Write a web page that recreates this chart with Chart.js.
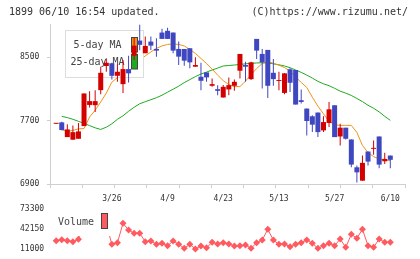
<!DOCTYPE html>
<html>
<head>
<meta charset="utf-8">
<script src="https://cdn.jsdelivr.net/npm/chart.js@4.4.1/dist/chart.umd.min.js"></script>
<style>
  html, body { margin: 0; padding: 0; background: #fff; }
  #wrap { position: relative; width: 420px; height: 259px; overflow: hidden; font-family: "DejaVu Sans Mono", monospace; color: #333; }
  #stamp { position: absolute; left: 9px; top: 6px; font-size: 10px; line-height: 12px; white-space: pre; }
  #copy { position: absolute; right: 12px; top: 6px; font-size: 10px; line-height: 12px; white-space: pre; }
  #main { position: absolute; left: 0; top: 0; }
  #vol { position: absolute; left: 0; top: 195px; }
</style>
</head>
<body>
<div id="wrap">
  <canvas id="main" width="420" height="205"></canvas>
  <canvas id="vol" width="420" height="64"></canvas>
  <div id="stamp">1899 06/10 16:54 updated.</div>
  <div id="copy">(C)https://www.rizumu.net/</div>
</div>
<script>
const $ = (id) => document.getElementById(id);

// trading days 0..60, date labels every 10th day
const dateIdx = [10, 20, 30, 40, 50, 60];
const dateLabels = ["3/26", "4/9", "4/23", "5/13", "5/27", "6/10"];

const open = [7660, 7678, 7492, 7459, 7471, 7631, 7898, 7895, 8085, 8390,
  8424, 8266, 8161, 8351, 8520, 8711, 8551, 8698, 8605, 8812,
  8834, 8812, 8605, 8605, 8614, 8381, 8254, 8309, 8140, 8097,
  7992, 8094, 8140, 8330, 8402, 8224, 8732, 8542, 8593, 8304,
  8200, 8050, 8348, 8339, 7958, 7852, 7755, 7802, 7577, 7670,
  7894, 7500, 7611, 7462, 7111, 6942, 7310, 7344, 7500, 7187, 7259];
const high = [7668, 7685, 7653, 7640, 7670, 8043, 8072, 8085, 8381, 8487,
  8430, 8410, 8466, 8520, 8745, 8910, 8762, 8762, 8741, 8860,
  8872, 8812, 8698, 8605, 8614, 8500, 8431, 8309, 8233, 8148,
  8150, 8246, 8220, 8542, 8444, 8444, 8732, 8605, 8593, 8478,
  8317, 8300, 8360, 8339, 8094, 7852, 7767, 7802, 7755, 7936,
  7894, 7662, 7611, 7462, 7132, 7259, 7310, 7450, 7500, 7293, 7259];
const low = [7660, 7578, 7492, 7459, 7471, 7631, 7865, 7809, 8034, 8317,
  8220, 8190, 8050, 8183, 8466, 8590, 8551, 8593, 8508, 8732,
  8732, 8551, 8402, 8393, 8360, 8381, 8085, 8190, 8127, 8021,
  7992, 8021, 8076, 8233, 8190, 8212, 8478, 8106, 7987, 8140,
  8085, 8034, 8063, 7903, 7916, 7513, 7555, 7492, 7555, 7619,
  7492, 7386, 7462, 7111, 6920, 6942, 7132, 7268, 7098, 7154, 7098];
const close = [7668, 7581, 7589, 7555, 7564, 8043, 7946, 7946, 8304, 8431,
  8266, 8317, 8351, 8297, 8647, 8657, 8643, 8647, 8584, 8732,
  8732, 8584, 8508, 8457, 8436, 8402, 8203, 8246, 8161, 8076,
  8127, 8148, 8190, 8542, 8381, 8436, 8584, 8436, 8140, 8224,
  8212, 8297, 8178, 7903, 7936, 7695, 7649, 7555, 7682, 7843,
  7492, 7611, 7471, 7145, 7047, 7167, 7183, 7352, 7145, 7217, 7205];

const ma5 = [null, 7585, 7564, 7577, 7596, 7600, 7746, 7831, 7936, 8047,
  8186, 8243, 8301, 8351, 8402, 8459, 8517, 8567, 8612, 8643,
  8662, 8669, 8662, 8643, 8599, 8548, 8485, 8421, 8351, 8275,
  8205, 8155, 8130, 8130, 8199, 8281, 8358, 8421, 8443, 8424,
  8400, 8370, 8326, 8250, 8183, 8119, 7996, 7882, 7786, 7691,
  7647, 7640, 7640, 7640, 7551, 7386, 7297, 7246, 7217, 7202, 7196];
const ma25 = [null, 7754, 7738, 7717, 7691, 7666, 7637, 7609, 7589, 7617,
  7660, 7717, 7761, 7818, 7869, 7913, 7939, 7964, 7989, 8021,
  8059, 8097, 8135, 8180, 8218, 8256, 8288, 8313, 8339, 8364,
  8390, 8396, 8402, 8409, 8417, 8424, 8428, 8431, 8428, 8417,
  8405, 8390, 8368, 8339, 8309, 8275, 8237, 8196, 8165, 8141,
  8108, 8072, 8047, 8018, 7980, 7940, 7894, 7856, 7810, 7754, 7704];

const volume = [24000, 25500, 23900, 22400, 26100, 60000, 45000, 40000, 52000, 50000,
  18300, 20800, 51000, 40600, 35500, 35500, 22400, 23500, 18300, 19900,
  16100, 23500, 18300, 12100, 18300, 11000, 15700, 13000, 21400, 18800,
  20800, 18800, 15700, 16100, 17200, 12100, 20800, 25000, 41700, 25000,
  18300, 18800, 14600, 18300, 20800, 25000, 19900, 12100, 16100, 19900,
  16100, 26600, 13600, 33900, 27700, 41700, 16100, 13600, 26600, 21400, 21400];

const priceTicks = [6900, 7700, 8500];
const volTicks = [11000, 42150, 73300];

const UP = "#d40000", DOWN = "#3f47c0", ORANGE = "#f39219", GREEN = "#1faa1f";
const VOL = "#ff5a5f", AXIS = "#cfcfcf", INK = "#333", FONT = "'DejaVu Sans Mono', monospace";
const X_MIN = -1.11, X_MAX = 62.64;

const idx = close.map((_, i) => i);
const candleColor = idx.map((i) => (close[i] >= open[i] ? UP : DOWN));
const pts = (arr) => idx.map((i) => ({ x: i, y: arr[i] }));

function xTicks(s) {
  const marks = [];
  for (let k = 0; k <= 11; k++) marks.push({ value: X_MIN + (k * (X_MAX - X_MIN)) / 11, lab: "" });
  const labs = dateIdx.map((v, i) => ({ value: v, lab: dateLabels[i] }));
  s.ticks = marks.concat(labs).sort((a, b) => a.value - b.value);
}

const maLegend = {
  id: "maLegend",
  afterDatasetDraw(chart, args) {
    if (args.index !== 0) return; // after the 5-day line, before candles
    const c = chart.ctx;
    c.save();
    c.fillStyle = "#fff";
    c.fillRect(65, 30, 78, 47);
    c.strokeStyle = "#ddd";
    c.lineWidth = 1;
    c.strokeRect(65.5, 30.5, 78, 47);
    c.font = "10px " + FONT;
    c.textAlign = "center";
    c.textBaseline = "middle";
    [chart.data.datasets[0], chart.data.datasets[1]].forEach((ds, r) => {
      const y = 37.5 + r * 17;
      c.fillStyle = "#444";
      c.fillText(ds.label, 97.5, y + 8);
      c.fillStyle = ds.borderColor;
      c.fillRect(131.5, y, 6, 14.5);
      c.strokeStyle = "#444";
      c.strokeRect(131.5, y, 6, 14.5);
    });
    c.restore();
  },
};

const volLegend = {
  id: "volLegend",
  afterDatasetsDraw(chart) {
    const c = chart.ctx;
    c.save();
    c.fillStyle = "#fff";
    c.fillRect(52, 10, 58, 31);
    c.font = "10px " + FONT;
    c.fillStyle = "#444";
    c.textAlign = "left";
    c.textBaseline = "middle";
    c.fillText("Volume", 58, 27.5);
    c.fillStyle = VOL;
    c.fillRect(101.5, 18.5, 6, 15);
    c.strokeStyle = "#444";
    c.lineWidth = 1;
    c.strokeRect(101.5, 18.5, 6, 15);
    c.restore();
  },
};

new Chart($("main"), {
  type: "bar",
  data: {
    datasets: [
      { type: "line", label: "5-day MA", data: pts(ma5), borderColor: ORANGE, borderWidth: 1, pointRadius: 0, order: 3 },
      { type: "line", label: "25-day MA", data: pts(ma25), borderColor: GREEN, borderWidth: 1, pointRadius: 0, order: 4 },
      { label: "wick", data: idx.map((i) => ({ x: i, y: [low[i], high[i]] })), backgroundColor: candleColor,
        barThickness: 1, grouped: false, inflateAmount: 0, order: 1 },
      { label: "body", data: idx.map((i) => ({ x: i, y: [open[i], close[i]] })), backgroundColor: candleColor,
        barThickness: 5, minBarLength: 1, grouped: false, inflateAmount: 0, order: 0 },
    ],
  },
  options: {
    responsive: false,
    animation: false,
    layout: { padding: { left: 20, right: 15, top: 24, bottom: 0 } },
    plugins: { legend: { display: false }, tooltip: { enabled: false } },
    scales: {
      x: {
        type: "linear", min: X_MIN, max: X_MAX, offset: false, bounds: "data",
        afterBuildTicks: xTicks,
        afterFit: (s) => { s.height = 21; },
        grid: { display: true, drawOnChartArea: false, tickLength: 4, offset: false,
          color: (ctx) => (ctx.tick && ctx.tick.label ? "rgba(0,0,0,0)" : AXIS) },
        border: { display: true, color: AXIS },
        ticks: { autoSkip: false, maxRotation: 0, padding: 6, color: INK, font: { family: FONT, size: 8 },
          callback: (v, i, ticks) => ticks[i].lab || "" },
      },
      y: {
        min: 6900, max: 8920, bounds: "data",
        afterBuildTicks: (s) => { s.ticks = priceTicks.map((v) => ({ value: v })); },
        afterFit: (s) => { s.width = 30; },
        grid: { drawOnChartArea: false, tickLength: 3, color: AXIS },
        border: { color: AXIS },
        ticks: { crossAlign: "far", color: INK, font: { family: FONT, size: 8 }, callback: (v) => String(v) },
      },
    },
  },
  plugins: [maLegend],
});

new Chart($("vol"), {
  type: "line",
  data: {
    datasets: [
      { label: "Volume", data: pts(volume), borderColor: VOL, backgroundColor: VOL, borderWidth: 1,
        pointStyle: "rectRot", pointRadius: 3.5, pointBorderWidth: 0, clip: false },
    ],
  },
  options: {
    responsive: false,
    animation: false,
    layout: { padding: { left: 20, right: 15, top: 14, bottom: 10 } },
    plugins: { legend: { display: false }, tooltip: { enabled: false } },
    scales: {
      x: { type: "linear", min: X_MIN, max: X_MAX, bounds: "data", display: false },
      y: {
        min: 11000, max: 73300, bounds: "data",
        afterBuildTicks: (s) => { s.ticks = volTicks.map((v) => ({ value: v })); },
        afterFit: (s) => { s.width = 30; },
        grid: { display: false },
        border: { display: false },
        ticks: { crossAlign: "far", color: INK, font: { family: FONT, size: 8 }, callback: (v) => String(v) },
      },
    },
  },
  plugins: [volLegend],
});
</script>
</body>
</html>
